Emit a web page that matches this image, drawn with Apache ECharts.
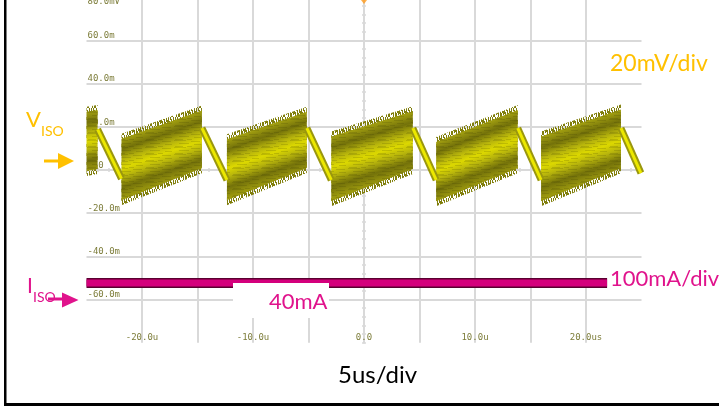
<!DOCTYPE html>
<html>
<head>
<meta charset="utf-8">
<script src="https://cdn.jsdelivr.net/npm/echarts@6/dist/echarts.min.js"></script>
<style>
html,body{margin:0;padding:0;background:#fff;}
#chart{width:719px;height:406px;}
</style>
</head>
<body>
<div id="chart"></div>
<script>
// ---- data (scope display units: time in us, voltage in mV) ----
const xLabelValues = [-20, -10, 0, 10, 20];
const xLabelTexts = ['-20.0u', '-10.0u', '0.0', '10.0u', '20.0us'];
const yLabelValues = [60, 40, 20, 0, -20, -40, -60];
const yLabelTexts = ['60.0m', '40.0m', '20.0m', '\u00a0\u00a00', '-20.0m', '-40.0m', '-60.0m'];
const yTopLabel = '80.0mV';

// V_ISO ripple: noisy rising ramps (band envelope)
const rampT0 = [-25.0, -21.85, -12.35, -2.95, 6.5, 15.95];
const rampT1 = [-24.0, -14.6, -5.15, 4.4, 13.85, 23.15];
const rampLow0 = [-0.5, -14.0, -14.0, -14.5, -14.5, -14.5];
const rampHigh0 = [27.0, 14.5, 14.2, 15.5, 13.0, 15.5];
const rampLow1 = [0.5, 0.8, 0.9, 0.5, 0.8, 0.8];
const rampHigh1 = [27.8, 27.5, 27.0, 27.2, 27.8, 28.0];

// V_ISO ripple: quiet falling edges
const fallT0 = [-24.0, -14.6, -5.15, 4.4, 13.85, 23.15];
const fallV0 = [18.8, 19.4, 19.4, 19.4, 19.4, 19.4];
const fallT1 = [-21.85, -12.35, -2.95, 6.5, 15.95, 24.95];
const fallV1 = [-4.0, -4.6, -4.6, -4.6, -4.6, -1.4];

// I_ISO trace (display position)
const iT = [-25.0, 21.9];
const iV = [-52.3, -52.3];

// trigger marker
const trigT = [0];
const trigV = [80];

const OLIVE = '#7d7d3a';
const GRIDC = '#d9d9d9';
const ORANGE = '#ffc000';
const MAGENTA = '#e0138c';

// ---- texture tiles (pure styling) ----
function makeTile(w, h, color, rects) {
  const c = document.createElement('canvas');
  c.width = w; c.height = h;
  const g = c.getContext('2d');
  g.fillStyle = color;
  rects.forEach(r => g.fillRect(r[0], r[1], r[2], r[3]));
  return c;
}
const fuzzTile = makeTile(7, 9, '#807e0b', [
  [0, 0, 1, 6], [1, 4, 1, 5], [2, 0, 1, 3], [3, 2, 1, 7], [4, 5, 1, 4], [5, 0, 1, 5], [6, 3, 1, 4]
]);
const streakTile = makeTile(29, 7, 'rgba(50,48,0,0.16)', [
  [0, 0, 12, 1], [17, 1, 9, 1], [5, 3, 10, 1], [20, 4, 7, 1], [1, 6, 8, 1], [13, 6, 5, 1]
]);

const chart = echarts.init(document.getElementById('chart'), null, {renderer: 'canvas'});

const bandData = rampT0.map((t, i) => [t, rampT1[i], rampLow0[i], rampHigh0[i], rampLow1[i], rampHigh1[i]]);

const bandStops = [
  {offset: 0.0, color: '#a3a010'},
  {offset: 0.18, color: '#74720a'},
  {offset: 0.36, color: '#b8b50c'},
  {offset: 0.5, color: '#dcd800'},
  {offset: 0.64, color: '#b8b50c'},
  {offset: 0.82, color: '#74720a'},
  {offset: 1.0, color: '#9c990e'}
];

function renderBand(params, api) {
  const t0 = api.value(0), t1 = api.value(1);
  const lo0 = api.value(2), hi0 = api.value(3), lo1 = api.value(4), hi1 = api.value(5);
  const A = api.coord([t0, hi0]), B = api.coord([t1, hi1]);
  const C = api.coord([t1, lo1]), D = api.coord([t0, lo0]);
  const f = 5;
  const fuzz = [[A[0], A[1] - f], [B[0], B[1] - f], [C[0], C[1] + f], [D[0], D[1] + f]];
  const dx = B[0] - A[0], dy = B[1] - A[1];
  const len = Math.hypot(dx, dy) || 1;
  const nx = -dy / len, ny = dx / len;
  const mtx = (A[0] + B[0]) / 2, mty = (A[1] + B[1]) / 2;
  const mbx = (C[0] + D[0]) / 2, mby = (C[1] + D[1]) / 2;
  const dist = (mbx - mtx) * nx + (mby - mty) * ny;
  const grad = new echarts.graphic.LinearGradient(mtx, mty, mtx + nx * dist, mty + ny * dist, bandStops, true);
  return {
    type: 'group',
    children: [
      {type: 'polygon', shape: {points: fuzz}, style: {fill: {image: fuzzTile, repeat: 'repeat'}}},
      {type: 'polygon', shape: {points: [A, B, C, D]}, style: {fill: grad}},
      {type: 'polygon', shape: {points: [A, B, C, D]}, style: {fill: {image: streakTile, repeat: 'repeat'}}}
    ]
  };
}

const fallSeriesOuter = fallT0.map((t, i) => ({
  type: 'line', xAxisIndex: 0, yAxisIndex: 0, z: 3, symbol: 'none', silent: true,
  data: [[t, fallV0[i]], [fallT1[i], fallV1[i]]],
  lineStyle: {color: '#9a970e', width: 7, cap: 'butt'}
}));
const fallSeriesInner = fallT0.map((t, i) => ({
  type: 'line', xAxisIndex: 0, yAxisIndex: 0, z: 4, symbol: 'none', silent: true,
  data: [[t, fallV0[i]], [fallT1[i], fallV1[i]]],
  lineStyle: {color: '#ece800', width: 3, cap: 'butt'}
}));

const monoFont = {fontFamily: 'DejaVu Sans Mono', fontSize: 9, color: OLIVE};

const option = {
  animation: false,
  backgroundColor: '#ffffff',
  grid: {left: 86.5, right: 77.5, top: -2.8, bottom: 63.2, containLabel: false, outerBoundsMode: 'none'},
  xAxis: [
    {
      type: 'value', min: -25, max: 25, interval: 5, position: 'bottom',
      axisLine: {show: false, onZero: false}, axisTick: {show: false},
      splitLine: {show: true, showMinLine: false, showMaxLine: false, lineStyle: {color: GRIDC, width: 2}},
      axisLabel: Object.assign({
        show: true, inside: true, margin: 1, showMinLabel: true, showMaxLabel: true, hideOverlap: false,
        formatter: v => { const k = xLabelValues.indexOf(v); return k >= 0 ? xLabelTexts[k] : ''; }
      }, monoFont)
    },
    {
      type: 'value', min: -25, max: 25, interval: 5, position: 'bottom',
      axisLine: {show: false, onZero: true, onZeroAxisIndex: 0},
      axisTick: {show: true, length: 2, lineStyle: {color: GRIDC, width: 1.5}},
      minorTick: {show: true, splitNumber: 5, length: 2, lineStyle: {color: GRIDC, width: 1.5}},
      splitLine: {show: false}, axisLabel: {show: false}
    },
    {
      type: 'value', min: -25, max: 25, interval: 5, position: 'bottom',
      axisLine: {show: false, onZero: true, onZeroAxisIndex: 0},
      axisTick: {show: true, inside: true, length: 2, lineStyle: {color: GRIDC, width: 1.5}},
      minorTick: {show: true, splitNumber: 5, length: 2, lineStyle: {color: GRIDC, width: 1.5}},
      splitLine: {show: false}, axisLabel: {show: false}
    }
  ],
  yAxis: [
    {
      type: 'value', min: -80, max: 80, interval: 20, position: 'left',
      axisLine: {show: false, onZero: false}, axisTick: {show: false},
      splitLine: {show: true, showMinLine: false, showMaxLine: false, lineStyle: {color: GRIDC, width: 2}},
      axisLabel: Object.assign({
        show: true, inside: true, margin: 1, verticalAlign: 'bottom', align: 'left',
        showMinLabel: true, showMaxLabel: true, hideOverlap: false,
        formatter: v => { const k = yLabelValues.indexOf(v); return k >= 0 ? yLabelTexts[k] : ''; }
      }, monoFont)
    },
    {
      type: 'value', min: -80, max: 80, interval: 20, position: 'left',
      axisLine: {show: false, onZero: false}, axisTick: {show: false}, splitLine: {show: false},
      axisLabel: Object.assign({
        show: true, inside: true, margin: 1, verticalAlign: 'top', align: 'left',
        showMinLabel: false, showMaxLabel: true, hideOverlap: false,
        formatter: v => (v === 80 ? yTopLabel : '')
      }, monoFont)
    },
    {
      type: 'value', min: -80, max: 80, interval: 20, position: 'left',
      axisLine: {show: true, onZero: true, onZeroAxisIndex: 0, lineStyle: {color: GRIDC, width: 2}},
      axisTick: {show: true, length: 2, lineStyle: {color: GRIDC, width: 1.5}},
      minorTick: {show: true, splitNumber: 5, length: 2, lineStyle: {color: GRIDC, width: 1.5}},
      splitLine: {show: false}, axisLabel: {show: false}
    },
    {
      type: 'value', min: -80, max: 80, interval: 20, position: 'left',
      axisLine: {show: false, onZero: true, onZeroAxisIndex: 0},
      axisTick: {show: true, inside: true, length: 2, lineStyle: {color: GRIDC, width: 1.5}},
      minorTick: {show: true, splitNumber: 5, length: 2, lineStyle: {color: GRIDC, width: 1.5}},
      splitLine: {show: false}, axisLabel: {show: false}
    }
  ],
  series: [
    {
      type: 'custom', name: 'VISO', xAxisIndex: 0, yAxisIndex: 0, z: 2, silent: true,
      renderItem: renderBand,
      encode: {x: [0, 1], y: [2, 3, 4, 5]},
      data: bandData
    },
    ...fallSeriesOuter,
    ...fallSeriesInner,
    {
      type: 'line', name: 'IISO-edge', xAxisIndex: 0, yAxisIndex: 0, z: 5, symbol: 'none', silent: true,
      data: iT.map((t, i) => [t, iV[i]]),
      lineStyle: {color: '#5a0030', width: 10, cap: 'butt'}
    },
    {
      type: 'line', name: 'IISO', xAxisIndex: 0, yAxisIndex: 0, z: 6, symbol: 'none', silent: true,
      data: iT.map((t, i) => [t, iV[i]]),
      lineStyle: {color: '#d4007c', width: 7, cap: 'butt'}
    },
    {
      type: 'scatter', xAxisIndex: 0, yAxisIndex: 0, z: 7, silent: true,
      data: trigT.map((t, i) => [t, trigV[i]]),
      symbol: 'triangle', symbolRotate: 180, symbolSize: [12, 8], symbolOffset: [0, 2.8],
      itemStyle: {color: '#ff9a1a'}
    }
  ],
  graphic: [
    {type: 'rect', z: 100, shape: {x: 4, y: 0, width: 2.5, height: 406}, style: {fill: '#000'}},
    {type: 'rect', z: 100, shape: {x: 4, y: 403, width: 715, height: 3}, style: {fill: '#000'}},
    // V_ISO label + arrow
    {type: 'text', z: 100, x: 26, y: 120, style: {text: 'V', fill: ORANGE, font: '22px Lato', verticalAlign: 'middle'}},
    {type: 'text', z: 100, x: 41, y: 131, style: {text: 'ISO', fill: ORANGE, font: '14px Lato', verticalAlign: 'middle'}},
    {type: 'line', z: 100, shape: {x1: 44, y1: 161, x2: 60, y2: 161}, style: {stroke: ORANGE, lineWidth: 3}},
    {type: 'polygon', z: 100, shape: {points: [[58, 153], [74, 161], [58, 169]]}, style: {fill: ORANGE}},
    // I_ISO label + arrow
    {type: 'text', z: 100, x: 27, y: 286.5, style: {text: 'I', fill: MAGENTA, font: '21px Lato', verticalAlign: 'middle'}},
    {type: 'text', z: 100, x: 33, y: 297.5, style: {text: 'ISO', fill: MAGENTA, font: '14px Lato', verticalAlign: 'middle'}},
    {type: 'line', z: 100, shape: {x1: 48, y1: 299, x2: 64, y2: 299}, style: {stroke: MAGENTA, lineWidth: 3}},
    {type: 'polygon', z: 100, shape: {points: [[62, 292.5], [78.5, 300], [62, 307.5]]}, style: {fill: MAGENTA}},
    // scale annotations
    {type: 'text', z: 100, x: 610, y: 64, style: {text: '20mV/div', fill: ORANGE, font: '23px Lato', verticalAlign: 'middle'}},
    {type: 'text', z: 100, x: 610, y: 279, style: {text: '100mA/div', fill: MAGENTA, font: '22px Lato', verticalAlign: 'middle'}},
    {type: 'rect', z: 100, shape: {x: 233, y: 283, width: 96, height: 35}, style: {fill: '#fff'}},
    {type: 'text', z: 101, x: 269, y: 302, style: {text: '40mA', fill: MAGENTA, font: '22px Lato', verticalAlign: 'middle'}},
    {type: 'text', z: 100, x: 338, y: 375, style: {text: '5us/div', fill: '#000', font: '24px Lato', verticalAlign: 'middle'}}
  ]
};

chart.setOption(option);
</script>
</body>
</html>
